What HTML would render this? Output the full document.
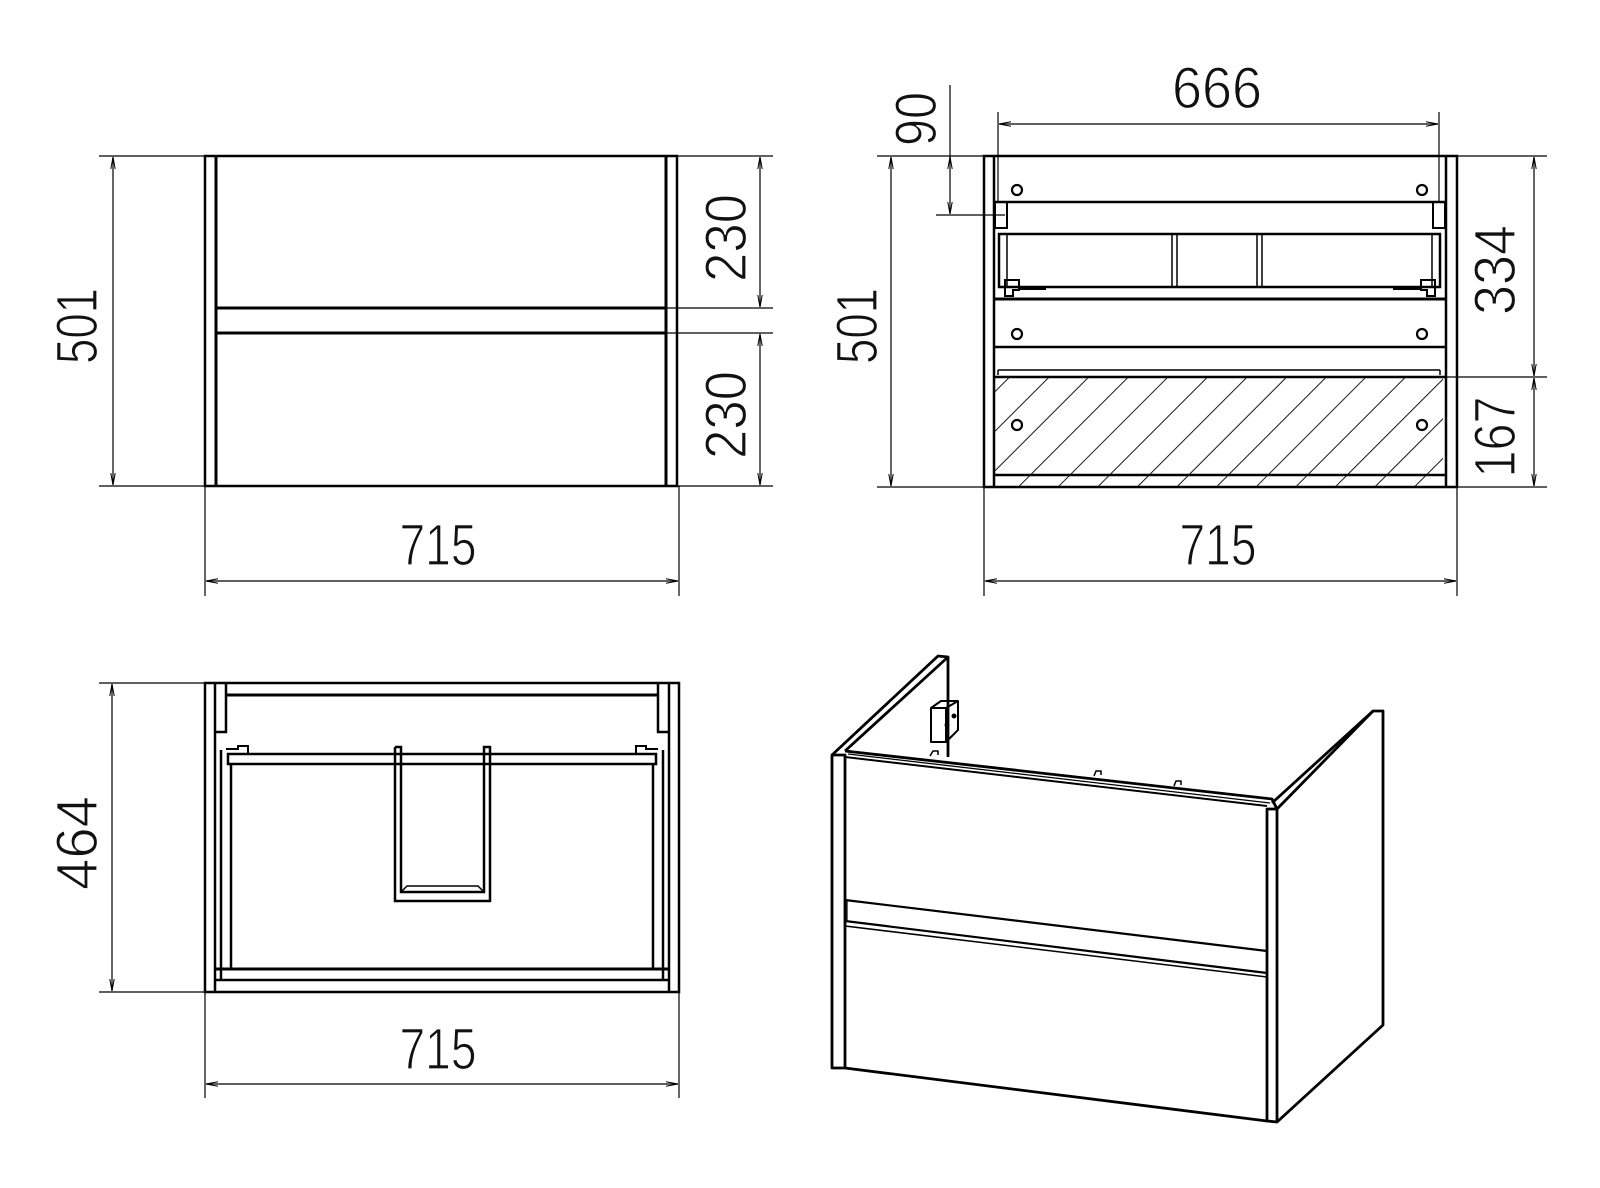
<!DOCTYPE html>
<html><head><meta charset="utf-8"><style>
html,body{margin:0;padding:0;background:#fff;}
svg{display:block}
text{font-family:"Liberation Sans",sans-serif;font-size:58px;fill:#111;stroke:#fff;stroke-width:1.2px;}
</style></head><body>
<svg width="1600" height="1188" viewBox="0 0 1600 1188" xmlns="http://www.w3.org/2000/svg">
<defs>
<marker id="a" viewBox="0 0 12 6" refX="12" refY="3" markerWidth="12" markerHeight="6" markerUnits="userSpaceOnUse" orient="auto-start-reverse"><path d="M0,0.8 L12,3 L0,5.2" fill="none" stroke="#000" stroke-width="1"/></marker>
<pattern id="h" patternUnits="userSpaceOnUse" width="28" height="28" patternTransform="rotate(45)"><line x1="0" y1="0" x2="0" y2="28" stroke="#000" stroke-width="1.8"/></pattern>
<clipPath id="hc"><rect x="995" y="377" width="448" height="109"/></clipPath>
</defs>

<g fill="none" stroke="#000">
<!-- ===== VIEW 1 ===== -->
<g stroke-width="3">
<rect x="205" y="156" width="472" height="330" stroke-width="2.5"/>
<line x1="216" y1="156" x2="216" y2="486"/>
<line x1="666" y1="156" x2="666" y2="486"/>
<line x1="216" y1="308" x2="666" y2="308"/>
<line x1="216" y1="333" x2="666" y2="333"/>
</g>
<g stroke-width="1.2">
<line x1="99" y1="156" x2="205" y2="156"/><line x1="99" y1="486" x2="205" y2="486"/>
<line x1="113" y1="157" x2="113" y2="485" marker-start="url(#a)" marker-end="url(#a)"/>
<line x1="677" y1="156" x2="773" y2="156"/><line x1="666" y1="308" x2="773" y2="308"/>
<line x1="666" y1="333" x2="773" y2="333"/><line x1="677" y1="486" x2="773" y2="486"/>
<line x1="760" y1="157" x2="760" y2="307" marker-start="url(#a)" marker-end="url(#a)"/>
<line x1="760" y1="334" x2="760" y2="485" marker-start="url(#a)" marker-end="url(#a)"/>
<line x1="205" y1="486" x2="205" y2="596"/><line x1="679" y1="486" x2="679" y2="596"/>
<line x1="206" y1="581" x2="678" y2="581" marker-start="url(#a)" marker-end="url(#a)"/>
</g>

<!-- ===== VIEW 2 ===== -->
<g stroke-width="2.5">
<rect x="984" y="156" width="473" height="331"/>
<line x1="994" y1="156" x2="994" y2="487"/>
<line x1="1446" y1="156" x2="1446" y2="487"/>
<line x1="994" y1="202" x2="1446" y2="202"/>
<rect x="999" y="234" width="441" height="53" stroke-width="2.5"/>
<line x1="994" y1="299" x2="1446" y2="299" stroke-width="3"/>
<line x1="994" y1="347" x2="1446" y2="347"/>
<line x1="998" y1="370" x2="1440" y2="370" stroke-width="1.5"/>
<line x1="994" y1="377" x2="1446" y2="377"/>
<line x1="994" y1="475" x2="1446" y2="475"/>
</g>
<g stroke-width="1.5">
<line x1="1007" y1="234" x2="1007" y2="287"/><line x1="1432" y1="234" x2="1432" y2="287"/>
<line x1="1172" y1="234" x2="1172" y2="287"/><line x1="1177" y1="234" x2="1177" y2="287"/>
<line x1="1257" y1="234" x2="1257" y2="287"/><line x1="1262" y1="234" x2="1262" y2="287"/>
<line x1="998" y1="370" x2="998" y2="375"/><line x1="1440" y1="370" x2="1440" y2="375"/>
<rect x="995" y="202" width="12" height="26" stroke-width="2"/>
<rect x="1433" y="202" width="12" height="26" stroke-width="2"/>
<path d="M1005,280 h14 v10 h-6 v6 h-8 z M1435,280 h-14 v10 h6 v6 h8 z" stroke-width="2"/>
<line x1="1019" y1="289" x2="1046" y2="289" stroke-width="2"/>
<line x1="1421" y1="289" x2="1393" y2="289" stroke-width="2"/>
</g>
<g stroke-width="2.2">
<circle cx="1017" cy="190" r="5"/><circle cx="1422" cy="190" r="5"/>
<circle cx="1017" cy="334" r="5"/><circle cx="1422" cy="334" r="5"/>
<circle cx="1017" cy="425" r="5"/><circle cx="1422" cy="425" r="5"/>
</g>
<rect x="995" y="377" width="448" height="109" fill="url(#h)" stroke="none" clip-path="url(#hc)"/>
<g stroke-width="1.2">
<line x1="998" y1="112" x2="998" y2="202"/><line x1="1439" y1="112" x2="1439" y2="202"/>
<line x1="999" y1="124" x2="1438" y2="124" marker-start="url(#a)" marker-end="url(#a)"/>
<line x1="877" y1="156" x2="984" y2="156"/><line x1="877" y1="487" x2="984" y2="487"/>
<line x1="891" y1="157" x2="891" y2="486" marker-start="url(#a)" marker-end="url(#a)"/>
<line x1="950" y1="85" x2="950" y2="214" marker-end="url(#a)"/>
<line x1="950" y1="160" x2="950" y2="157" marker-end="url(#a)"/>
<line x1="936" y1="215" x2="1005" y2="215"/>
<line x1="1457" y1="156" x2="1547" y2="156"/><line x1="1446" y1="377" x2="1547" y2="377"/>
<line x1="1457" y1="487" x2="1547" y2="487"/>
<line x1="1534" y1="157" x2="1534" y2="376" marker-start="url(#a)" marker-end="url(#a)"/>
<line x1="1534" y1="378" x2="1534" y2="486" marker-start="url(#a)" marker-end="url(#a)"/>
<line x1="984" y1="487" x2="984" y2="596"/><line x1="1457" y1="487" x2="1457" y2="596"/>
<line x1="985" y1="581" x2="1456" y2="581" marker-start="url(#a)" marker-end="url(#a)"/>
</g>

<!-- ===== VIEW 3 ===== -->
<g stroke-width="2.5">
<rect x="205" y="683" width="474" height="309"/>
<line x1="215" y1="683" x2="215" y2="992"/>
<line x1="669" y1="683" x2="669" y2="992"/>
<line x1="226" y1="695" x2="658" y2="695" stroke-width="3"/>
<path d="M215,732 h11 v-49 M669,732 h-11 v-49"/>
<rect x="228" y="754" width="428" height="10"/>
<line x1="231" y1="764" x2="231" y2="969"/><line x1="653" y1="764" x2="653" y2="969"/>
<line x1="221" y1="750" x2="221" y2="980"/><line x1="663" y1="750" x2="663" y2="980"/>
<line x1="215" y1="969" x2="669" y2="969" stroke-width="3"/>
<line x1="215" y1="980" x2="669" y2="980"/>
<path d="M395,747 v154 h95 v-154 h-6 v6 h-0 M395,747 h6 v145 h83 v-145"/>
<path d="M401,892 l6,-6 h71 l6,6" stroke-width="1.5"/>
<path d="M226,749 h12 v-3 h10 v8 M658,749 h-12 v-3 h-10 v8" stroke-width="2"/>
</g>
<g stroke-width="1.2">
<line x1="99" y1="683" x2="205" y2="683"/><line x1="99" y1="992" x2="205" y2="992"/>
<line x1="112" y1="684" x2="112" y2="991" marker-start="url(#a)" marker-end="url(#a)"/>
<line x1="205" y1="992" x2="205" y2="1098"/><line x1="679" y1="992" x2="679" y2="1098"/>
<line x1="206" y1="1084" x2="678" y2="1084" marker-start="url(#a)" marker-end="url(#a)"/>
</g>

<!-- ===== VIEW 4 (3D) ===== -->
<g stroke-width="2.8" stroke-linejoin="round">
<path d="M845,755 L832,755 L832,1068 L845,1068 Z"/>
<path d="M832,755 L938,656 L948,657 L845,751"/>
<line x1="948" y1="657" x2="948" y2="757"/>
<path d="M845,751 L1272,799 L1277,809 L1267,809 L1267,1121 L1277,1122 L1277,809"/>
<line x1="845" y1="757" x2="1267" y2="806" stroke-width="2"/>
<line x1="848" y1="754" x2="1270" y2="803" stroke-width="1.3"/>
<path d="M1277,809 L1373,711 L1383,711 L1383,1025 L1277,1122"/>
<line x1="1272" y1="803" x2="1373" y2="711"/>
<line x1="845" y1="1068" x2="1267" y2="1121"/>
<line x1="845" y1="900" x2="1267" y2="951" stroke-width="2.2"/>
<line x1="845" y1="921" x2="1267" y2="973" stroke-width="2.2"/>
<line x1="845" y1="926" x2="1267" y2="977" stroke-width="1.5"/>
<line x1="847" y1="900" x2="847" y2="921" stroke-width="1.2"/>
<path d="M931,708 L941,701 L958,701 L958,730 L946,742 L931,742 Z" stroke-width="2"/>
<path d="M931,708 L946,708 L946,742 M946,708 L958,701" stroke-width="2"/>
<circle cx="954" cy="716" r="2" fill="#000" stroke-width="1"/><circle cx="947" cy="725" r="2" fill="#000" stroke-width="1"/>
<path d="M930,756 l3,-5 h5 v4 M1094,776 l2,-5 h5 v4 M1174,786 l2,-5 h5 v4" stroke-width="1.5"/>
</g>
</g>

<!-- ===== TEXT ===== -->
<text transform="translate(97,326) rotate(-90)" text-anchor="middle" textLength="76" lengthAdjust="spacingAndGlyphs">501</text>
<text transform="translate(746,238) rotate(-90)" text-anchor="middle" textLength="88" lengthAdjust="spacingAndGlyphs">230</text>
<text transform="translate(746,415) rotate(-90)" text-anchor="middle" textLength="88" lengthAdjust="spacingAndGlyphs">230</text>
<text x="438" y="565" text-anchor="middle" textLength="77" lengthAdjust="spacingAndGlyphs">715</text>

<text transform="translate(877,326) rotate(-90)" text-anchor="middle" textLength="76" lengthAdjust="spacingAndGlyphs">501</text>
<text transform="translate(936,119) rotate(-90)" text-anchor="middle" textLength="54" lengthAdjust="spacingAndGlyphs">90</text>
<text x="1217" y="108" text-anchor="middle" textLength="90" lengthAdjust="spacingAndGlyphs">666</text>
<text transform="translate(1515,270) rotate(-90)" text-anchor="middle" textLength="90" lengthAdjust="spacingAndGlyphs">334</text>
<text transform="translate(1515,437) rotate(-90)" text-anchor="middle" textLength="81" lengthAdjust="spacingAndGlyphs">167</text>
<text x="1218" y="565" text-anchor="middle" textLength="77" lengthAdjust="spacingAndGlyphs">715</text>

<text transform="translate(97,843) rotate(-90)" text-anchor="middle" textLength="94" lengthAdjust="spacingAndGlyphs">464</text>
<text x="438" y="1069" text-anchor="middle" textLength="77" lengthAdjust="spacingAndGlyphs">715</text>
</svg>
</body></html>
